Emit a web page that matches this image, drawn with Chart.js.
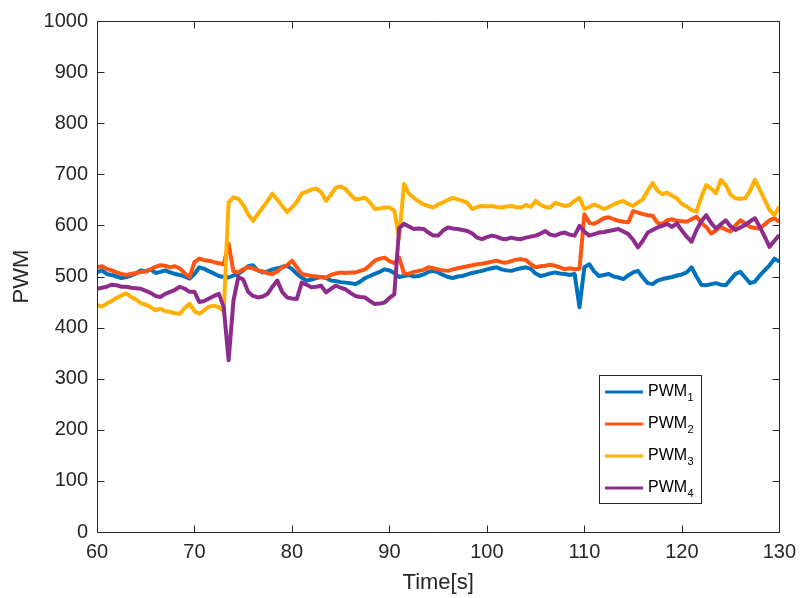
<!DOCTYPE html>
<html><head><meta charset="utf-8">
<script src="https://cdn.jsdelivr.net/npm/chart.js@4.4.1/dist/chart.umd.min.js"></script>
<style>html,body{margin:0;padding:0;background:#fff}#wrap{width:804px;height:598px}</style>
</head><body><div id="wrap"><canvas id="c" width="804" height="598"></canvas></div>
<script>
// sample grid (s), 0.5 s steps from 60 to 130
const time = Array.from({length: 141}, (_, i) => 60 + i * 0.5);

const pwm1 = [
508,512,505,503,500,497,499,502,506,512,
510,514,507,509,512,508,505,503,500,496,
505,518,515,510,506,501,499,498,502,505,
512,520,522,512,508,510,514,516,519,521,
515,505,498,492,494,497,499,497,492,491,
489,488,487,485,490,497,501,505,509,514,
512,507,499,501,503,500,501,504,509,511,
508,503,499,497,500,501,504,507,509,511,
514,516,518,514,512,511,514,516,518,515,
506,501,503,506,508,506,505,503,505,440,
518,524,510,501,503,505,500,498,495,502,
508,511,498,487,485,492,495,497,499,502,
504,508,518,500,484,483,485,487,484,483,
494,505,509,498,487,490,502,512,522,535,
529];

const pwm2 = [
518,520,515,512,508,505,503,505,507,509,
510,514,519,522,521,518,520,516,506,499,
528,535,532,531,528,526,524,564,510,508,
514,518,516,512,510,506,505,510,518,522,
531,518,505,503,501,500,499,498,503,506,
508,507,508,508,511,514,522,531,535,537,
530,526,537,506,505,509,511,513,518,516,
514,512,511,514,516,518,520,522,524,525,
527,529,531,528,527,530,533,534,532,524,
518,520,521,523,521,518,514,516,514,515,
622,605,603,608,614,616,612,609,607,606,
628,625,622,620,619,605,603,610,612,609,
608,607,612,617,605,597,584,590,597,592,
588,600,610,604,597,595,594,602,610,614,
607];

const pwm3 = [
444,441,447,452,458,463,467,460,455,448,
445,440,434,437,432,431,428,427,438,447,
432,427,434,441,443,440,432,645,655,652,
640,622,609,622,635,648,662,650,638,626,
635,646,662,666,670,672,665,648,660,674,
676,671,660,651,652,654,645,632,633,635,
635,629,575,681,662,654,647,641,638,635,
641,645,650,654,651,648,644,632,636,638,
637,638,636,635,637,638,636,635,640,636,
648,640,636,635,644,641,638,640,648,654,
632,636,641,637,632,636,641,645,648,642,
638,645,651,668,683,668,661,664,658,653,
642,637,630,627,656,679,672,663,689,679,
660,653,652,653,668,689,670,650,630,620,
637];

const pwm4 = [
476,478,480,484,483,480,480,478,477,476,
472,468,462,460,466,470,474,480,476,470,
470,450,452,457,462,466,440,336,453,499,
494,470,462,459,461,466,480,492,470,459,
457,456,488,484,479,480,482,469,476,482,
478,475,468,462,460,459,452,446,447,449,
458,465,595,603,598,593,594,593,586,580,
580,590,596,594,593,591,589,584,576,573,
577,580,578,574,573,576,574,573,576,578,
580,584,589,582,580,584,586,582,580,599,
588,580,583,586,587,589,591,593,588,583,
572,557,570,586,591,596,599,603,597,604,
590,578,568,591,608,620,605,594,602,610,
598,591,596,601,608,614,597,578,558,570,
581];

const seriesBase = ['PWM', 'PWM', 'PWM', 'PWM'];
const seriesSub = ['1', '2', '3', '4'];
const seriesColors = ['#0072BD', '#FF5510', '#FFB000', '#8E2C8E'];
const xTicks = [60, 70, 80, 90, 100, 110, 120, 130];
const yTicks = [0, 100, 200, 300, 400, 500, 600, 700, 800, 900, 1000];

const FONT = "'Liberation Sans', Arial, Helvetica, sans-serif";
const INK = '#262626';
Chart.defaults.font.family = FONT;
Chart.defaults.color = INK;

const allSeries = [pwm1, pwm2, pwm3, pwm4];
const datasets = allSeries.map((vals, i) => ({
  label: seriesBase[i] + seriesSub[i],
  data: vals.map((v, k) => ({x: time[k], y: v})),
  borderColor: seriesColors[i],
  backgroundColor: seriesColors[i],
  borderWidth: 4,
  borderJoinStyle: 'round',
  pointRadius: 0,
  tension: 0,
  order: allSeries.length - i
}));

const frame = {
  id: 'frame',
  afterDatasetsDraw(chart) {
    const {ctx, chartArea: a, scales: {x, y}} = chart;
    ctx.save();
    ctx.strokeStyle = INK;
    ctx.lineWidth = 1;
    const L = Math.round(a.left) + 0.5, R = Math.round(a.right) + 0.5;
    const T = Math.round(a.top) + 0.5, B = Math.round(a.bottom) + 0.5;
    ctx.beginPath();
    ctx.rect(L, T, R - L, B - T);
    const tl = 7;
    xTicks.forEach(v => {
      const p = Math.round(x.getPixelForValue(v)) + 0.5;
      ctx.moveTo(p, B); ctx.lineTo(p, B - tl);
      ctx.moveTo(p, T); ctx.lineTo(p, T + tl);
    });
    yTicks.forEach(v => {
      const p = Math.round(y.getPixelForValue(v)) + 0.5;
      ctx.moveTo(L, p); ctx.lineTo(L + tl, p);
      ctx.moveTo(R, p); ctx.lineTo(R - tl, p);
    });
    ctx.stroke();

    // legend
    const bx = 599.5, by = 375.5, bw = 102, bh = 128;
    ctx.fillStyle = '#fff';
    ctx.fillRect(bx, by, bw, bh);
    ctx.strokeStyle = INK;
    ctx.strokeRect(bx, by, bw, bh);
    const rows = [392, 424, 456, 488];
    seriesBase.forEach((name, i) => {
      const yy = rows[i];
      ctx.strokeStyle = seriesColors[i];
      ctx.lineWidth = 3;
      ctx.beginPath();
      ctx.moveTo(605, yy); ctx.lineTo(643, yy);
      ctx.stroke();
      ctx.fillStyle = '#000';
      ctx.font = '16px ' + FONT;
      ctx.textBaseline = 'middle';
      ctx.textAlign = 'left';
      ctx.fillText(name, 648, yy);
      const w = ctx.measureText(name).width;
      ctx.font = '11px ' + FONT;
      ctx.fillText(seriesSub[i], 648 + w + 0.5, yy + 6);
    });
    ctx.restore();
  }
};

new Chart(document.getElementById('c'), {
  type: 'line',
  data: {datasets},
  plugins: [frame],
  options: {
    responsive: false,
    animation: false,
    layout: {padding: {top: 20, right: 20, left: 0, bottom: 0}},
    plugins: {legend: {display: false}, tooltip: {enabled: false}},
    scales: {
      x: {
        type: 'linear', min: 60, max: 130,
        afterBuildTicks: s => { s.ticks = xTicks.map(v => ({value: v})); },
        afterFit: s => { s.height = 66; },
        grid: {display: false, drawTicks: false},
        border: {display: false},
        ticks: {padding: 8, font: {size: 20}, color: INK, maxRotation: 0, autoSkip: false,
                callback: v => String(v)},
        title: {display: true, text: 'Time[s]', font: {size: 22}, color: INK, padding: {top: 0, bottom: 2}}
      },
      y: {
        type: 'linear', min: 0, max: 1000,
        afterBuildTicks: s => { s.ticks = yTicks.map(v => ({value: v})); },
        afterFit: s => { s.width = 97; },
        grid: {display: false, drawTicks: false},
        border: {display: false},
        ticks: {padding: 9, font: {size: 20}, color: INK, autoSkip: false,
                callback: v => String(v)},
        title: {display: true, text: 'PWM', font: {size: 22}, color: INK, padding: {top: 9, bottom: 0}}
      }
    }
  }
});
</script>
</body></html>
